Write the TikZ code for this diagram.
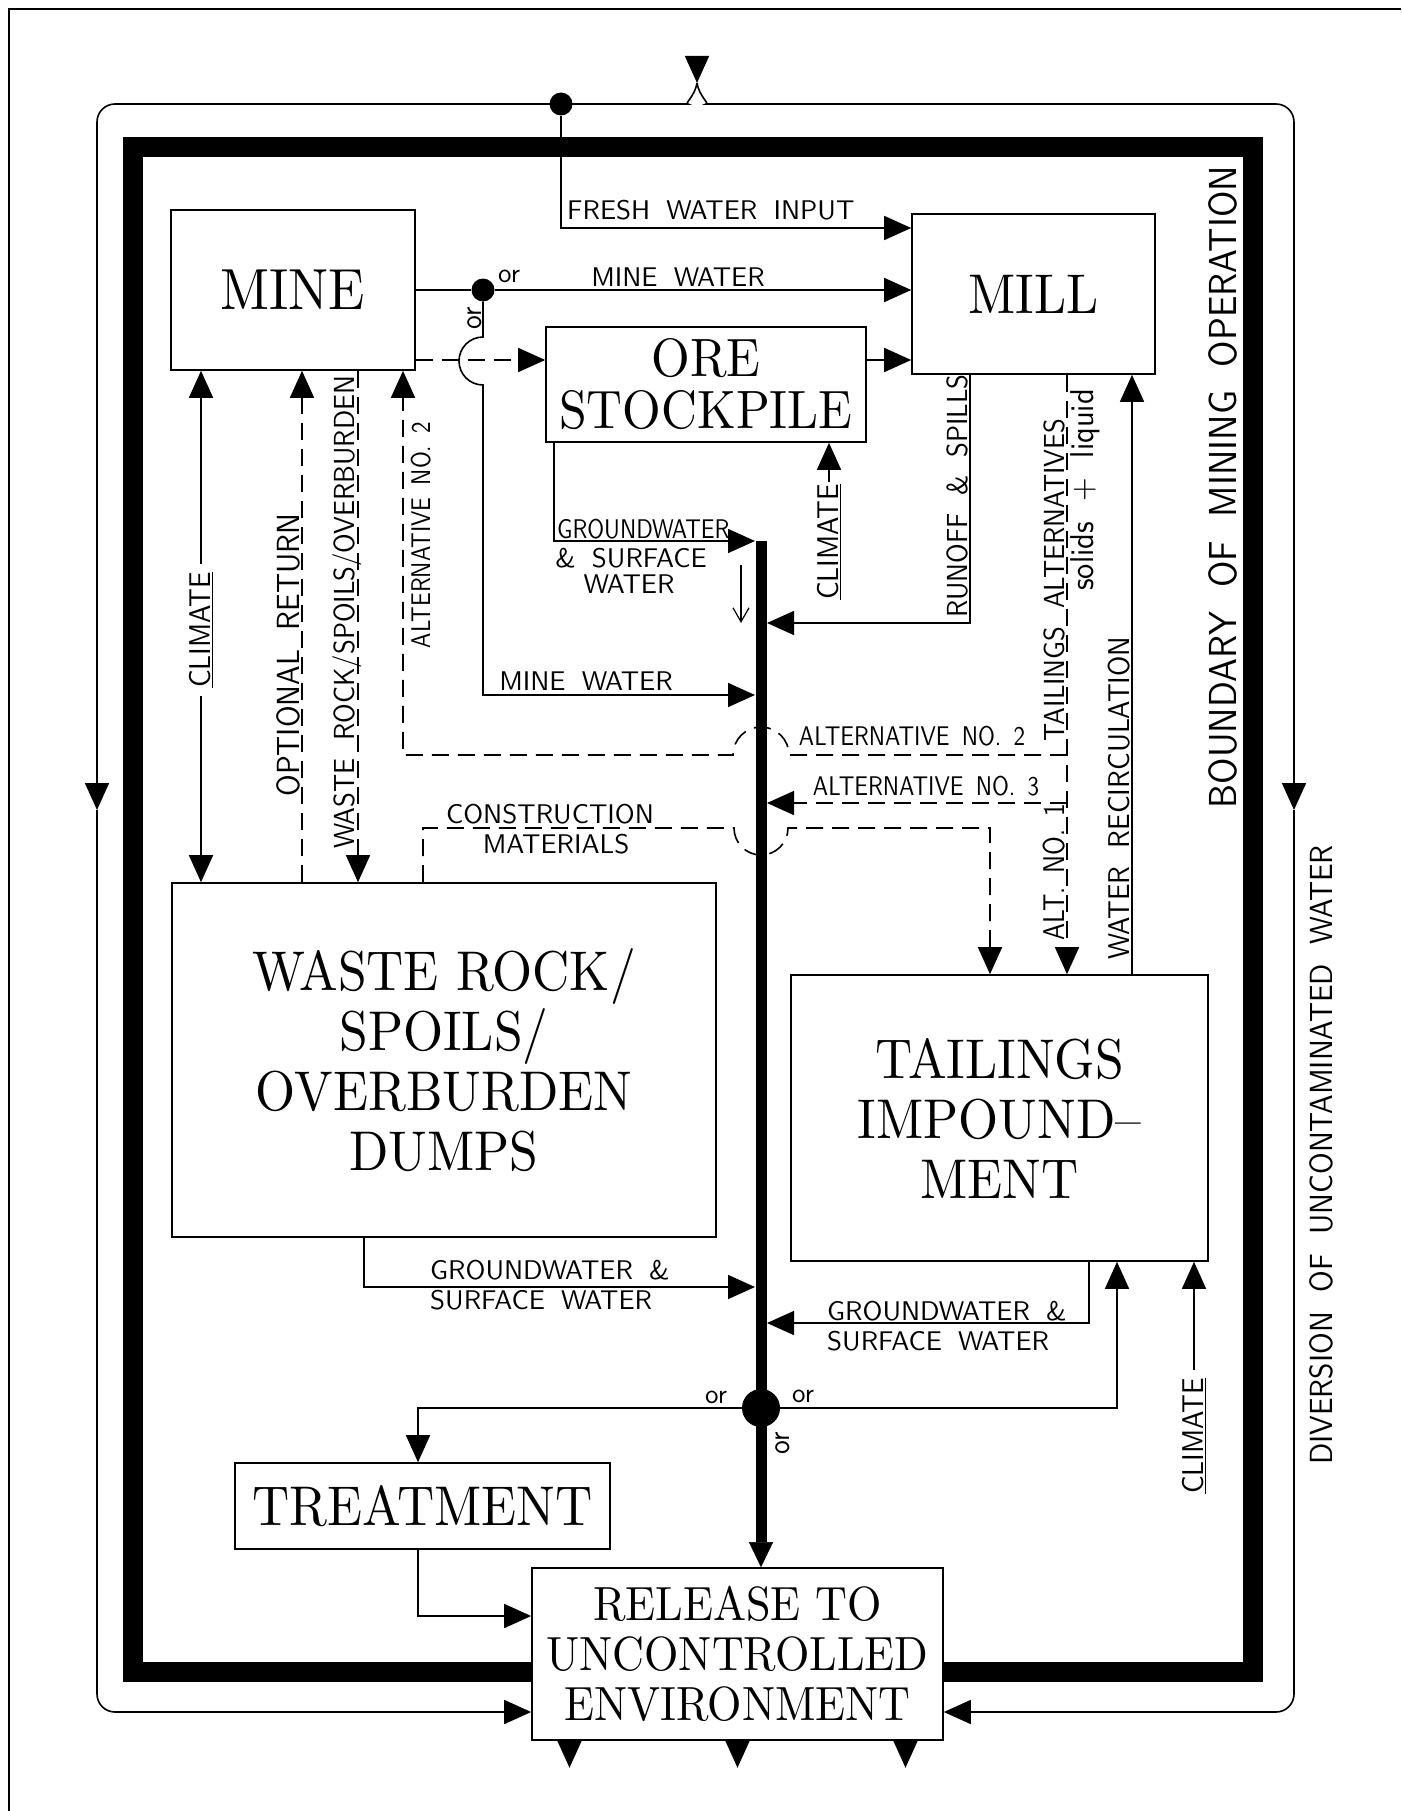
\documentclass[tikz,border=0pt]{standalone}
\usepackage{fontspec}
\usepackage{tikz}
\usetikzlibrary{arrows.meta}
\newfontfamily\boxfont{lmroman10-regular}[Extension=.otf, FakeStretch=0.92]
\newfontfamily\lblfont{lmsans10-regular}[Extension=.otf, WordSpace=1.8]
\newfontfamily\vlblfont{lmsans10-regular}[Extension=.otf, FakeStretch=0.92, WordSpace=2.0]
\newfontfamily\nlblfont{lmsans10-regular}[Extension=.otf, FakeStretch=0.85, WordSpace=1.6]

\begin{document}
\begin{tikzpicture}[x=1pt, y=-1pt,
		bx/.style = {rectangle, draw, line width=1.6pt, fill=white, inner sep=0pt, align=center, font=\boxfont\fontsize{56}{60}\selectfont},
		lb/.style = {inner sep=0pt, font=\lblfont\fontsize{27}{30}\selectfont},
		nl/.style = {inner sep=0pt, font=\nlblfont\fontsize{27}{30}\selectfont},
		vl/.style = {inner sep=0pt, rotate=90, anchor=base, font=\vlblfont\fontsize{30}{32}\selectfont},
		cl/.style = {inner sep=8pt, rotate=90, font=\vlblfont\fontsize{30}{32}\selectfont},
		dt/.style = {circle, fill, inner sep=0pt, minimum size=23pt},
		ln/.style = {line width=1.6pt},
		r/.style  = {ln, -{Triangle[length=27pt, width=24pt]}},
		dr/.style = {r, dash pattern=on 17pt off 9pt},
		rc/.style = {r, rounded corners=18pt}
		]
		\useasboundingbox (0,0) rectangle (1401,1811);
		
		%Frame and boundary
		\draw[ln]	(1401,9) -- (9,9) -- (9,1811);
		\draw[line width=20pt]	(133,147) rectangle (1252.5,1672);
		
		%Nodes
		\node[bx, minimum width=244pt, minimum height=160pt, font=\boxfont\fontsize{58}{60}\selectfont]	(mine)	at (293,290)		{MINE};
		\node[bx, minimum width=320pt, minimum height=115pt, font=\boxfont\fontsize{54}{52}\selectfont]	(ore)	at (706,384.5)		{ORE\\STOCKPILE};
		\node[bx, minimum width=243pt, minimum height=160pt]	(mill)	at (1033.5,294)		{MILL};
		\node[bx, minimum width=544pt, minimum height=354pt]	(waste)	at (444,1060)		{WASTE ROCK/\\SPOILS/\\OVERBURDEN\\DUMPS};
		\node[bx, minimum width=417pt, minimum height=286pt]	(tail)	at (999.5,1118)		{TAILINGS\\IMPOUND–\\MENT};
		\node[bx, minimum width=375pt, minimum height=86pt]	(treat)	at (422.5,1506)		{TREATMENT};
		\node[bx, minimum width=411pt, minimum height=172pt, font=\boxfont\fontsize{48}{50}\selectfont]	(rel)	at (737.5,1654)		{RELEASE TO\\UNCONTROLLED\\ENVIRONMENT};
		
		\node[dt]	(dtop)	at (561,104)	{};
		\node[dt]	(dmine)	at (483,290)	{};
		\node[dt, minimum size=38pt]	(dbot)	at (761,1408)	{};
		
		\node[cl]	(clmine)	at (201,630)	{\underline{CLIMATE}};
		\node[cl, inner sep=2pt]	(clore)	at (829,542)	{\underline{CLIMATE}};
		\node[cl]	(cltail)	at (1194,1436)	{\underline{CLIMATE}};
		
		\coordinate	(inflow)	at (697,83);
		\coordinate	(dvl)	at (97,810);
		\coordinate	(dvr)	at (1294,810);
		
		%Labels
		\node[lb, anchor=base west]	at (567,220)	{FRESH WATER INPUT};
		\node[lb, anchor=base west]	at (498,283)	{or};
		\node[lb, anchor=base]	at (678,286)	{MINE WATER};
		\node[vl]	at (481,318)	{or};
		\node[nl, anchor=base west]	at (557,538)	{GROUNDWATER};
		\node[lb, anchor=base]	at (631,567)	{\& SURFACE};
		\node[lb, anchor=base]	at (629,593)	{WATER};
		\node[lb, anchor=base]	at (586,690)	{MINE WATER};
		\node[nl, anchor=base]	at (912,745)	{ALTERNATIVE NO. 2};
		\node[nl, anchor=base]	at (926,795)	{ALTERNATIVE NO. 3};
		\node[lb, anchor=base]	at (550,823)	{CONSTRUCTION};
		\node[lb, anchor=base]	at (556,853)	{MATERIALS};
		\node[lb, anchor=base west]	at (430,1279)	{GROUNDWATER \&};
		\node[lb, anchor=base west]	at (430,1309)	{SURFACE WATER};
		\node[lb, anchor=base west]	at (827,1320)	{GROUNDWATER \&};
		\node[lb, anchor=base west]	at (827,1350)	{SURFACE WATER};
		\node[lb, anchor=base west]	at (705,1403)	{or};
		\node[lb, anchor=base west]	at (792,1402)	{or};
		\node[vl]	at (789,1443)	{or};
		
		\node[vl, font=\vlblfont\fontsize{32}{34}\selectfont]	at (299,655)	{OPTIONAL RETURN};
		\node[vl, font=\vlblfont\fontsize{29}{32}\selectfont]	at (354,612)	{WASTE ROCK/SPOILS/OVERBURDEN};
		\node[vl, font=\nlblfont\fontsize{27}{30}\selectfont]	at (430,535)	{ALTERNATIVE NO. 2};
		\node[vl, font=\vlblfont\fontsize{29}{32}\selectfont]	at (967,496)	{RUNOFF \& SPILLS};
		\node[vl, font=\vlblfont\fontsize{29}{32}\selectfont]	at (1064,580)	{TAILINGS ALTERNATIVES};
		\node[vl, font=\vlblfont\fontsize{33}{34}\selectfont]	at (1093,490)	{solids + liquid};
		\node[vl, font=\nlblfont\fontsize{30}{32}\selectfont]	at (1064,872)	{ALT. NO. 1};
		\node[vl]	at (1129,798)	{WATER RECIRCULATION};
		\node[vl, font=\vlblfont\fontsize{39}{40}\selectfont]	at (1236,487)	{BOUNDARY OF MINING OPERATION};
		\node[vl, font=\vlblfont\fontsize{32}{34}\selectfont]	at (1332,1155)	{DIVERSION OF UNCONTAMINATED WATER};
		
		%Lines
		\draw[r]	(697,56) -- (inflow);
		\draw[rc]	(inflow) .. controls (695,96) and (684,104) .. (670,104) -- (97,104) -- (dvl);
		\draw[rc]	(dvl) -- (97,1712) -- (rel.west |- 0,1712);
		\draw[rc]	(inflow) .. controls (699,96) and (710,104) .. (724,104) -- (1294,104) -- (dvr);
		\draw[rc]	(dvr) -- (1294,1712) -- (rel.east |- 0,1712);
		
		\draw[r]	(dtop) |- (mill.west |- 0,228);
		\draw[ln]	(mine.east) -- (dmine);
		\draw[r]	(dmine) -- (mill.west |- dmine);
		\draw[r]	(dmine) -- (483,337) arc[start angle=90, end angle=270, radius=24pt] -- (483,695) -- (755,695);
		\draw[dr]	(mine.east |- 0,360) -- (ore.west |- 0,360);
		\draw[r]	(ore.east |- 0,360) -- (mill.west |- 0,360);
		\draw[r]	(ore.south -| 554,0) |- (755,541);
		\draw[r]	(clore.east) -- (clore.east |- ore.south);
		\draw[r]	(mill.south -| 970,0) |- (767,623);
		\draw[dr]	(mill.south -| 1067,0) -- (tail.north -| 1067,0);
		\draw[dr]	(1067,755) -- (789,755) arc[start angle=0, end angle=180, radius=28pt] -- (403,755) -- (mine.south -| 403,0);
		\draw[dr]	(1067,803) -- (767,803);
		\draw[dr]	(waste.north -| 423,0) |- (734,828) arc[start angle=180, end angle=360, radius=27pt] -- (990,828) -- (tail.north -| 990,0);
		\draw[r]	(tail.north -| 1132,0) -- (mill.south -| 1132,0);
		
		\draw[r]	(clmine.east) -- (clmine.east |- mine.south);
		\draw[r]	(clmine.west) -- (clmine.west |- waste.north);
		\draw[dr]	(waste.north -| 302,0) -- (mine.south -| 302,0);
		\draw[dr]	(mine.south -| 358,0) -- (waste.north -| 358,0);
		
		\draw[r]	(waste.south -| 364,0) |- (755,1287);
		\draw[r]	(tail.south -| 1089,0) |- (767,1323);
		\draw[r]	(cltail.east) -- (cltail.east |- tail.south);
		\draw[r]	(dbot) -| (treat.north -| 418,0);
		\draw[r]	(dbot) -| (tail.south -| 1117,0);
		\draw[r]	(treat.south -| 418,0) |- (rel.west |- 0,1616);
		
		\draw[line width=11pt, -{Triangle[length=25pt, width=24pt, line width=0.5pt]}]	(761,541) -- (rel.north -| 761,0);
		\draw[line width=1.2pt, -{Straight Barb[length=14pt, width=16pt]}]	(741,565) -- (741,623);
		\foreach \dx in {-168,0,168}
			\draw[r]	([xshift=\dx pt]rel.south) -- ++(0,27);
	\end{tikzpicture}
\end{document}
